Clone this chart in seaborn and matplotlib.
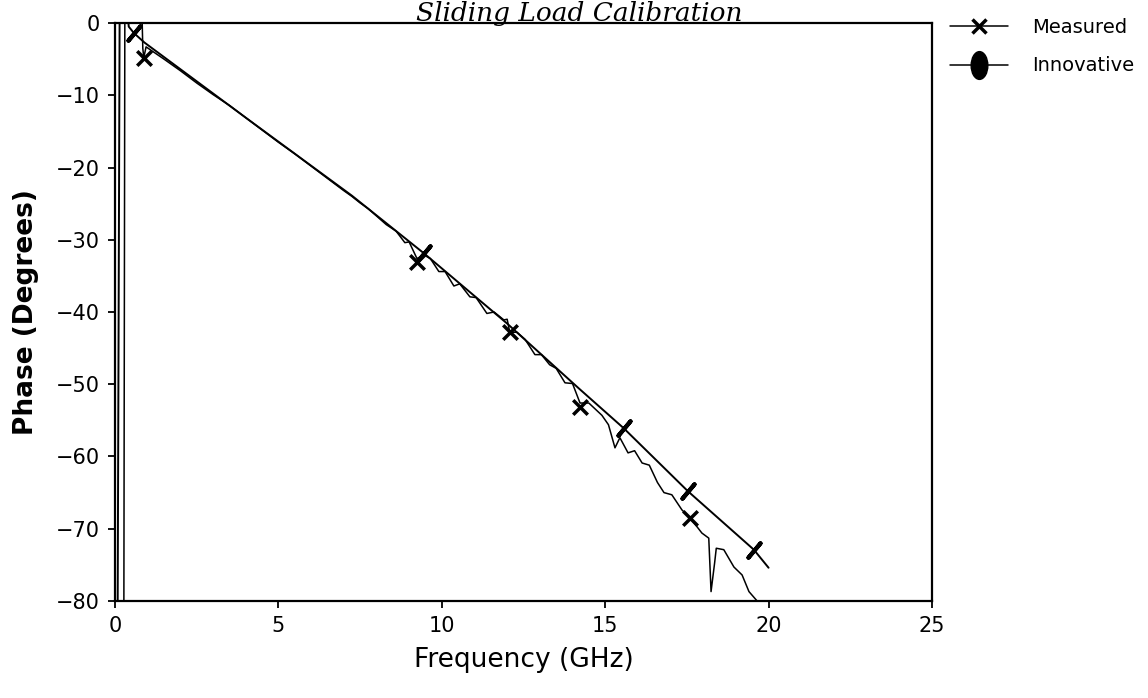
import matplotlib
matplotlib.use("Agg")
import matplotlib.pyplot as plt
from matplotlib.lines import Line2D
from matplotlib.path import Path
from matplotlib.transforms import Affine2D
import seaborn as sns

# data
###############################################################################

meas_freq = [0.27, 0.30, 0.83, 0.85, 0.88, 0.95, 1.5, 2.0, 2.5, 3.0, 3.5, 4.0,
             4.5, 5.0, 5.5, 6.0, 6.5, 7.0, 7.25, 7.5, 7.75, 8.0, 8.3, 8.6,
             8.87, 9.0, 9.24, 9.45, 9.65, 9.91, 10.1, 10.37, 10.55, 10.86,
             11.05, 11.38, 11.6, 11.9, 12.0, 12.08, 12.3, 12.55, 12.85, 13.05,
             13.3, 13.5, 13.77, 14.0, 14.23, 14.5, 14.9, 15.1, 15.3, 15.45,
             15.7, 15.9, 16.13, 16.35, 16.6, 16.8, 17.04, 17.35, 17.6, 17.96,
             18.17, 18.24, 18.35, 18.4, 18.63, 18.94, 19.19, 19.4, 19.65, 19.7]
meas_phase = [-82.0, 0.3, 0.3, -3.5, -4.8, -3.3, -5.0, -6.6, -8.3, -9.9, -11.4,
              -13.1, -14.8, -16.5, -18.1, -19.8, -21.5, -23.2, -24.0, -24.9,
              -25.7, -26.7, -27.9, -28.8, -30.4, -30.3, -32.6, -32.1, -32.6,
              -34.4, -34.4, -36.4, -36.1, -37.9, -38.0, -40.2, -40.0, -41.1,
              -41.0, -42.8, -42.8, -43.8, -45.9, -45.9, -47.3, -47.8, -49.8,
              -49.9, -52.6, -52.6, -54.3, -55.6, -58.8, -57.4, -59.5, -59.2,
              -60.9, -61.2, -63.6, -65.0, -65.3, -67.4, -68.5, -70.6, -71.3,
              -78.7, -74.7, -72.7, -72.9, -75.3, -76.4, -78.7, -80.0, -82.0]

innov_freq = [0.08, 0.14, 0.40, 0.42, 0.58, 0.9, 4.0, 7.25, 9.46, 12.0, 14.2,
              15.57, 17.53, 19.55, 20.0]
innov_phase = [-82.0, 0.5, 0.5, -0.5, -1.4, -2.7, -13.1, -23.9, -31.9, -41.6,
               -50.6, -56.1, -64.8, -72.9, -75.4]

meas_mark_freq = [0.88, 9.24, 12.08, 14.23, 17.6]
meas_mark_phase = [-4.8, -33.1, -42.8, -53.2, -68.5]
innov_mark_freq = [0.58, 9.46, 15.57, 17.53, 19.55]
innov_mark_phase = [-1.4, -31.9, -56.1, -64.8, -72.9]

# plot
###############################################################################

sns.set_style("ticks")
plt.rcParams["font.family"] = ["DejaVu Sans"]
plt.rcParams["text.color"] = "k"
plt.rcParams["axes.labelcolor"] = "k"

fig = plt.figure(figsize=(11.48, 6.98), dpi=100)
ax = fig.add_axes([0.1002, 0.139, 0.7116, 0.828])

sns.lineplot(x=meas_freq, y=meas_phase, ax=ax, color="k", linewidth=1.1,
             sort=False, estimator=None)
sns.lineplot(x=innov_freq, y=innov_phase, ax=ax, color="k", linewidth=1.4,
             sort=False, estimator=None)
sns.scatterplot(x=meas_mark_freq, y=meas_mark_phase, ax=ax, marker="x",
                s=110, color="k", linewidth=2.5)
sns.scatterplot(x=innov_mark_freq, y=innov_mark_phase, ax=ax,
                marker=(2, 2, -40), s=180, color="k", linewidth=3)

ax.set(xlim=(0, 25), ylim=(-80, 0))
ax.set_xticks([0, 5, 10, 15, 20, 25])
ax.set_yticks(range(-80, 1, 10))
ax.set_yticklabels(["\u221280", "\u221270", "\u221260", "\u221250", "\u221240",
                    "\u221230", "\u221220", "\u221210", "0"])
ax.tick_params(direction="out", length=5, width=1.3, labelsize=15,
               colors="k", pad=6)
for sp in ax.spines.values():
    sp.set_color("k")
    sp.set_linewidth(1.6)

ax.set_xlabel("Frequency (GHz)", fontsize=19, labelpad=8)
ax.set_ylabel("Phase (Degrees)", fontsize=19, fontweight="bold", labelpad=12)

fig.text(0.505, 0.999, "Sliding Load Calibration", fontsize=19,
         family="DejaVu Serif", style="italic", ha="center", va="top")

blob = Path.unit_circle().transformed(Affine2D().scale(0.6, 1.0))
handles = [
    Line2D([], [], color="k", linewidth=1.1, marker="x", markersize=10,
           markeredgewidth=2.5),
    Line2D([], [], color="k", linewidth=1.1, marker=blob, markersize=20),
]
fig.legend(handles, ["Measured", "Innovative"], loc="upper left",
           bbox_to_anchor=(950 / 1148, 1 - 18 / 698), frameon=False,
           fontsize=14, handlelength=3.0, handletextpad=1.2,
           labelspacing=1.0, borderpad=0, borderaxespad=0)

plt.savefig("out.png", dpi=100)
